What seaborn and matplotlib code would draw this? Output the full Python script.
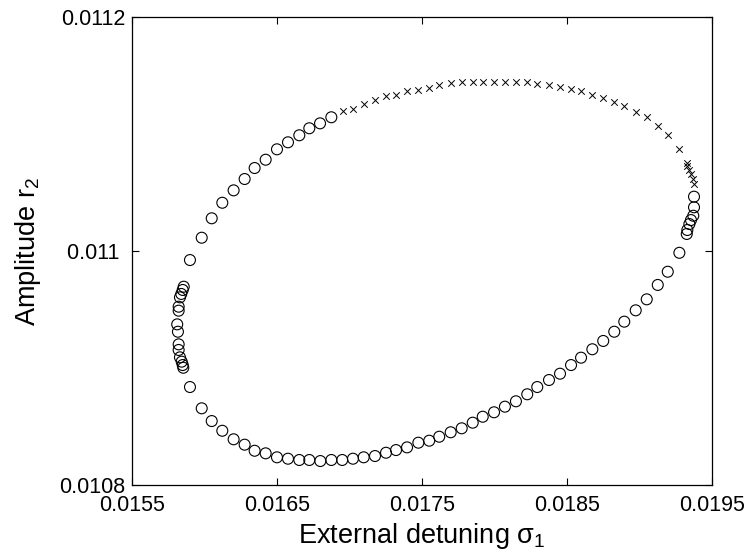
import numpy as np
import pandas as pd
import matplotlib
matplotlib.use("Agg")
import matplotlib.pyplot as plt
import seaborn as sns

# Stable solutions (open circles)
stable_sigma = [
    0.015902, 0.015983, 0.016052, 0.016125, 0.016203, 0.016279, 0.016348, 0.016424,
    0.016502, 0.016578, 0.016656, 0.016725, 0.016799, 0.016877,
    0.019378, 0.019378, 0.019373, 0.019357, 0.019346, 0.019332, 0.019328, 0.019277,
    0.019197, 0.019128, 0.019052, 0.018976, 0.018897, 0.018828, 0.018752, 0.018677,
    0.018599, 0.018530, 0.018454, 0.018378, 0.018297, 0.018228, 0.018150, 0.018074,
    0.017999, 0.017921, 0.017852, 0.017776, 0.017700, 0.017621, 0.017552, 0.017477,
    0.017399, 0.017323, 0.017254, 0.017178, 0.017100, 0.017026, 0.016952, 0.016877,
    0.016801, 0.016725, 0.016656, 0.016578, 0.016502, 0.016424, 0.016348, 0.016279,
    0.016203, 0.016125, 0.016052, 0.015983, 0.015902,
    0.015856, 0.015852, 0.015845, 0.015833, 0.015824, 0.015824, 0.015819, 0.015814,
    0.015824, 0.015824, 0.015833, 0.015842, 0.015852, 0.015859,
]
stable_r2 = [
    0.0109924, 0.0110115, 0.0110281, 0.0110414, 0.0110520, 0.0110617, 0.0110711, 0.0110782,
    0.0110871, 0.0110931, 0.0110991, 0.0111051, 0.0111093, 0.0111145,
    0.0110466, 0.0110375, 0.0110303, 0.0110266, 0.0110232, 0.0110181, 0.0110147, 0.0109986,
    0.0109824, 0.0109711, 0.0109588, 0.0109494, 0.0109397, 0.0109311, 0.0109232, 0.0109161,
    0.0109089, 0.0109026, 0.0108952, 0.0108898, 0.0108838, 0.0108776, 0.0108716, 0.0108670,
    0.0108622, 0.0108584, 0.0108533, 0.0108485, 0.0108451, 0.0108413, 0.0108379, 0.0108362,
    0.0108322, 0.0108299, 0.0108276, 0.0108248, 0.0108237, 0.0108225, 0.0108214, 0.0108214,
    0.0108205, 0.0108214, 0.0108214, 0.0108225, 0.0108237, 0.0108271, 0.0108293, 0.0108345,
    0.0108391, 0.0108464, 0.0108547, 0.0108656, 0.0108838,
    0.0109003, 0.0109026, 0.0109055, 0.0109092, 0.0109155, 0.0109203, 0.0109311, 0.0109374,
    0.0109491, 0.0109525, 0.0109605, 0.0109634, 0.0109668, 0.0109696,
]

# Unstable solutions (crosses)
unstable_sigma = [
    0.016959, 0.017026, 0.017102, 0.017178, 0.017254, 0.017323, 0.017399, 0.017478,
    0.017552, 0.017619, 0.017700, 0.017776, 0.017852, 0.017921, 0.017999, 0.018074,
    0.018150, 0.018228, 0.018297, 0.018380, 0.018454, 0.018530, 0.018599, 0.018677,
    0.018752, 0.018828, 0.018897, 0.018976, 0.019052, 0.019128, 0.019197, 0.019277,
    0.019328, 0.019332, 0.019346, 0.019357, 0.019369, 0.019378,
]
unstable_r2 = [
    0.0111199, 0.0111218, 0.0111258, 0.0111290, 0.0111324, 0.0111335, 0.0111370, 0.0111382,
    0.0111398, 0.0111421, 0.0111435, 0.0111447, 0.0111447, 0.0111447, 0.0111447, 0.0111447,
    0.0111447, 0.0111447, 0.0111430, 0.0111418, 0.0111406, 0.0111384, 0.0111372, 0.0111335,
    0.0111312, 0.0111278, 0.0111241, 0.0111193, 0.0111145, 0.0111073, 0.0110991, 0.0110871,
    0.0110751, 0.0110728, 0.0110694, 0.0110657, 0.0110614, 0.0110574,
]

x_ticks = [0.0155, 0.0165, 0.0175, 0.0185, 0.0195]
x_tick_labels = ["0.0155", "0.0165", "0.0175", "0.0185", "0.0195"]
y_ticks = [0.0108, 0.011, 0.0112]
y_tick_labels = ["0.0108", "0.011 ", "0.0112"]

sns.set_theme(style="ticks")
plt.rcParams["font.family"] = ["Liberation Sans", "DejaVu Sans"]
plt.rcParams["mathtext.fontset"] = "custom"
plt.rcParams["mathtext.rm"] = "Liberation Sans"
plt.rcParams["mathtext.it"] = "Liberation Sans"

stable_df = pd.DataFrame({"sigma": stable_sigma, "r2": stable_r2})
unstable_df = pd.DataFrame({"sigma": unstable_sigma, "r2": unstable_r2})

fig = plt.figure(figsize=(7.49, 5.58), dpi=100)
ax = fig.add_axes([0.1758, 0.1308, 0.7744, 0.8382])

sns.scatterplot(data=stable_df, x="sigma", y="r2", ax=ax, marker="o", s=62,
                facecolors="none", edgecolor="black", linewidth=0.8, legend=False)
sns.scatterplot(data=unstable_df, x="sigma", y="r2", ax=ax, marker="x", s=22,
                color="black", linewidth=0.7, legend=False)

ax.set_xlim(0.0155, 0.0195)
ax.set_ylim(0.0108, 0.0112)
ax.set_xticks(x_ticks)
ax.set_xticklabels(x_tick_labels)
ax.set_yticks(y_ticks)
ax.set_yticklabels(y_tick_labels)
ax.tick_params(direction="in", top=True, right=True, length=5, width=0.8,
               labelsize=15.5, colors="black")
ax.tick_params(axis="x", pad=7.5)
ax.tick_params(axis="y", pad=4.5)
for sp in ax.spines.values():
    sp.set_visible(True)
    sp.set_linewidth(0.9)
    sp.set_color("black")

ax.set_xlabel("External detuning σ$_1$", fontsize=19.5, color="black", labelpad=3)
ax.set_ylabel("Amplitude r$_2$", fontsize=19.5, color="black", labelpad=12)

fig.savefig("out.png", dpi=100, facecolor="white")
